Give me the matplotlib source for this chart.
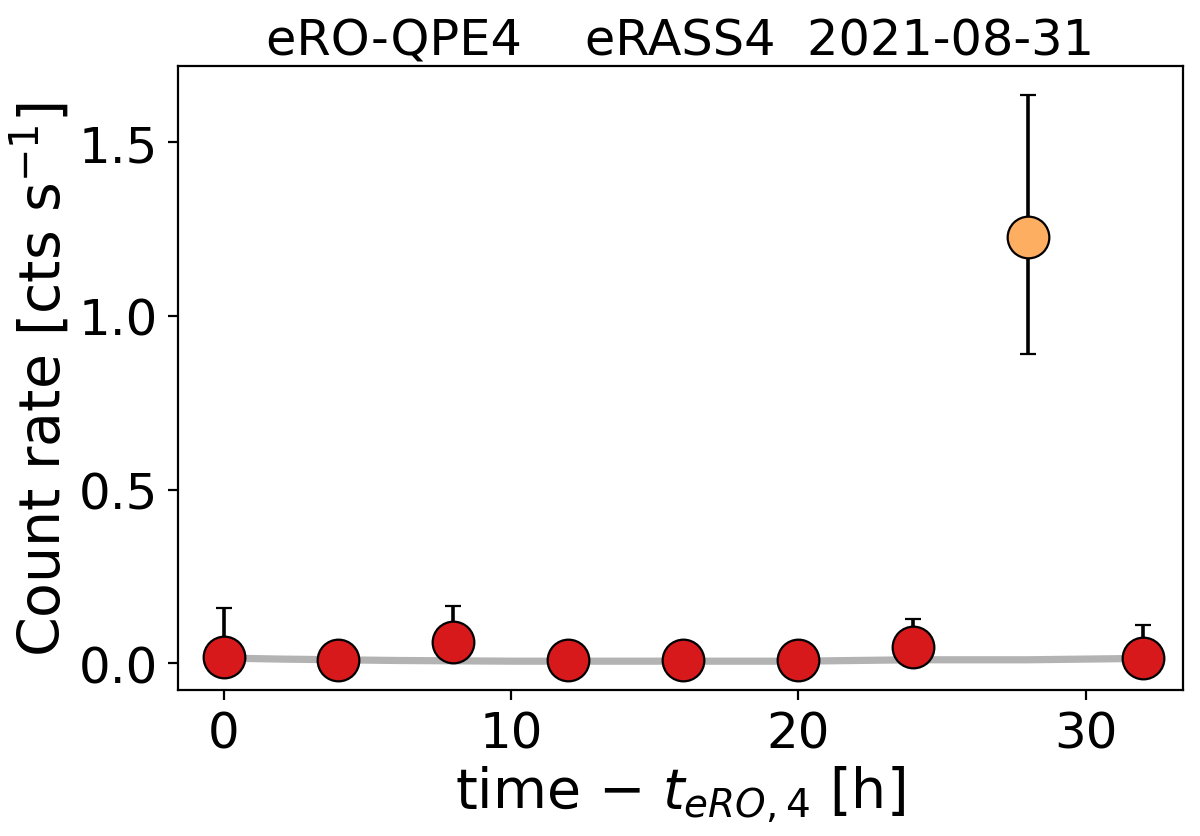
import numpy as np
import matplotlib.pyplot as plt

# light curve values
t_red = [0, 4, 8, 12, 16, 20, 24, 32]
rate_red = [0.018, 0.009, 0.062, 0.008, 0.008, 0.008, 0.048, 0.014]
err_red_lo = [0.0, 0.0, 0.0, 0.0, 0.0, 0.0, 0.0, 0.0]
err_red_hi = [0.140, 0.0, 0.103, 0.0, 0.0, 0.0, 0.079, 0.095]

t_peak = [28]
rate_peak = [1.227]
err_peak_lo = [0.337]
err_peak_hi = [0.408]

# quiescence model curve
t_model = [0, 2, 4, 6, 8, 10, 12, 14, 16, 18, 20, 22, 24, 26, 28, 30, 32]
rate_model = [0.015, 0.012, 0.010, 0.008, 0.007, 0.006, 0.006, 0.006, 0.006,
              0.006, 0.006, 0.008, 0.010, 0.010, 0.010, 0.012, 0.014]

fig, ax = plt.subplots(figsize=(6, 4.185), dpi=200)
fig.subplots_adjust(left=0.148, right=0.986, top=0.92, bottom=0.174)

ax.plot(t_model, rate_model, color='#b3b3b3', lw=2.6, zorder=1)

ax.errorbar(t_red, rate_red, yerr=[err_red_lo, err_red_hi], fmt='o',
            color='#d7191c', mec='black', mew=0.8, ms=15,
            ecolor='black', elinewidth=1.3, capsize=3, capthick=1.8, zorder=2)
ax.errorbar(t_peak, rate_peak, yerr=[err_peak_lo, err_peak_hi], fmt='o',
            color='#fdae61', mec='black', mew=0.8, ms=15,
            ecolor='black', elinewidth=1.3, capsize=3, capthick=1.8, zorder=2)

ax.set_xlim(-1.6, 33.4)
ax.set_ylim(-0.078, 1.719)
ax.set_xticks([0, 10, 20, 30])
ax.set_yticks([0.0, 0.5, 1.0, 1.5])
ax.tick_params(labelsize=18)

ax.set_xlabel(r'time $-$ $t_{eRO,4}$ [h]', fontsize=20, labelpad=2)
ax.set_ylabel(r'Count rate [cts s$^{-1}$]', fontsize=20.5, labelpad=2)
ax.set_title('eRO-QPE4    eRASS4  2021-08-31', fontsize=17.8, pad=4)

fig.savefig('out.png', dpi=200)
